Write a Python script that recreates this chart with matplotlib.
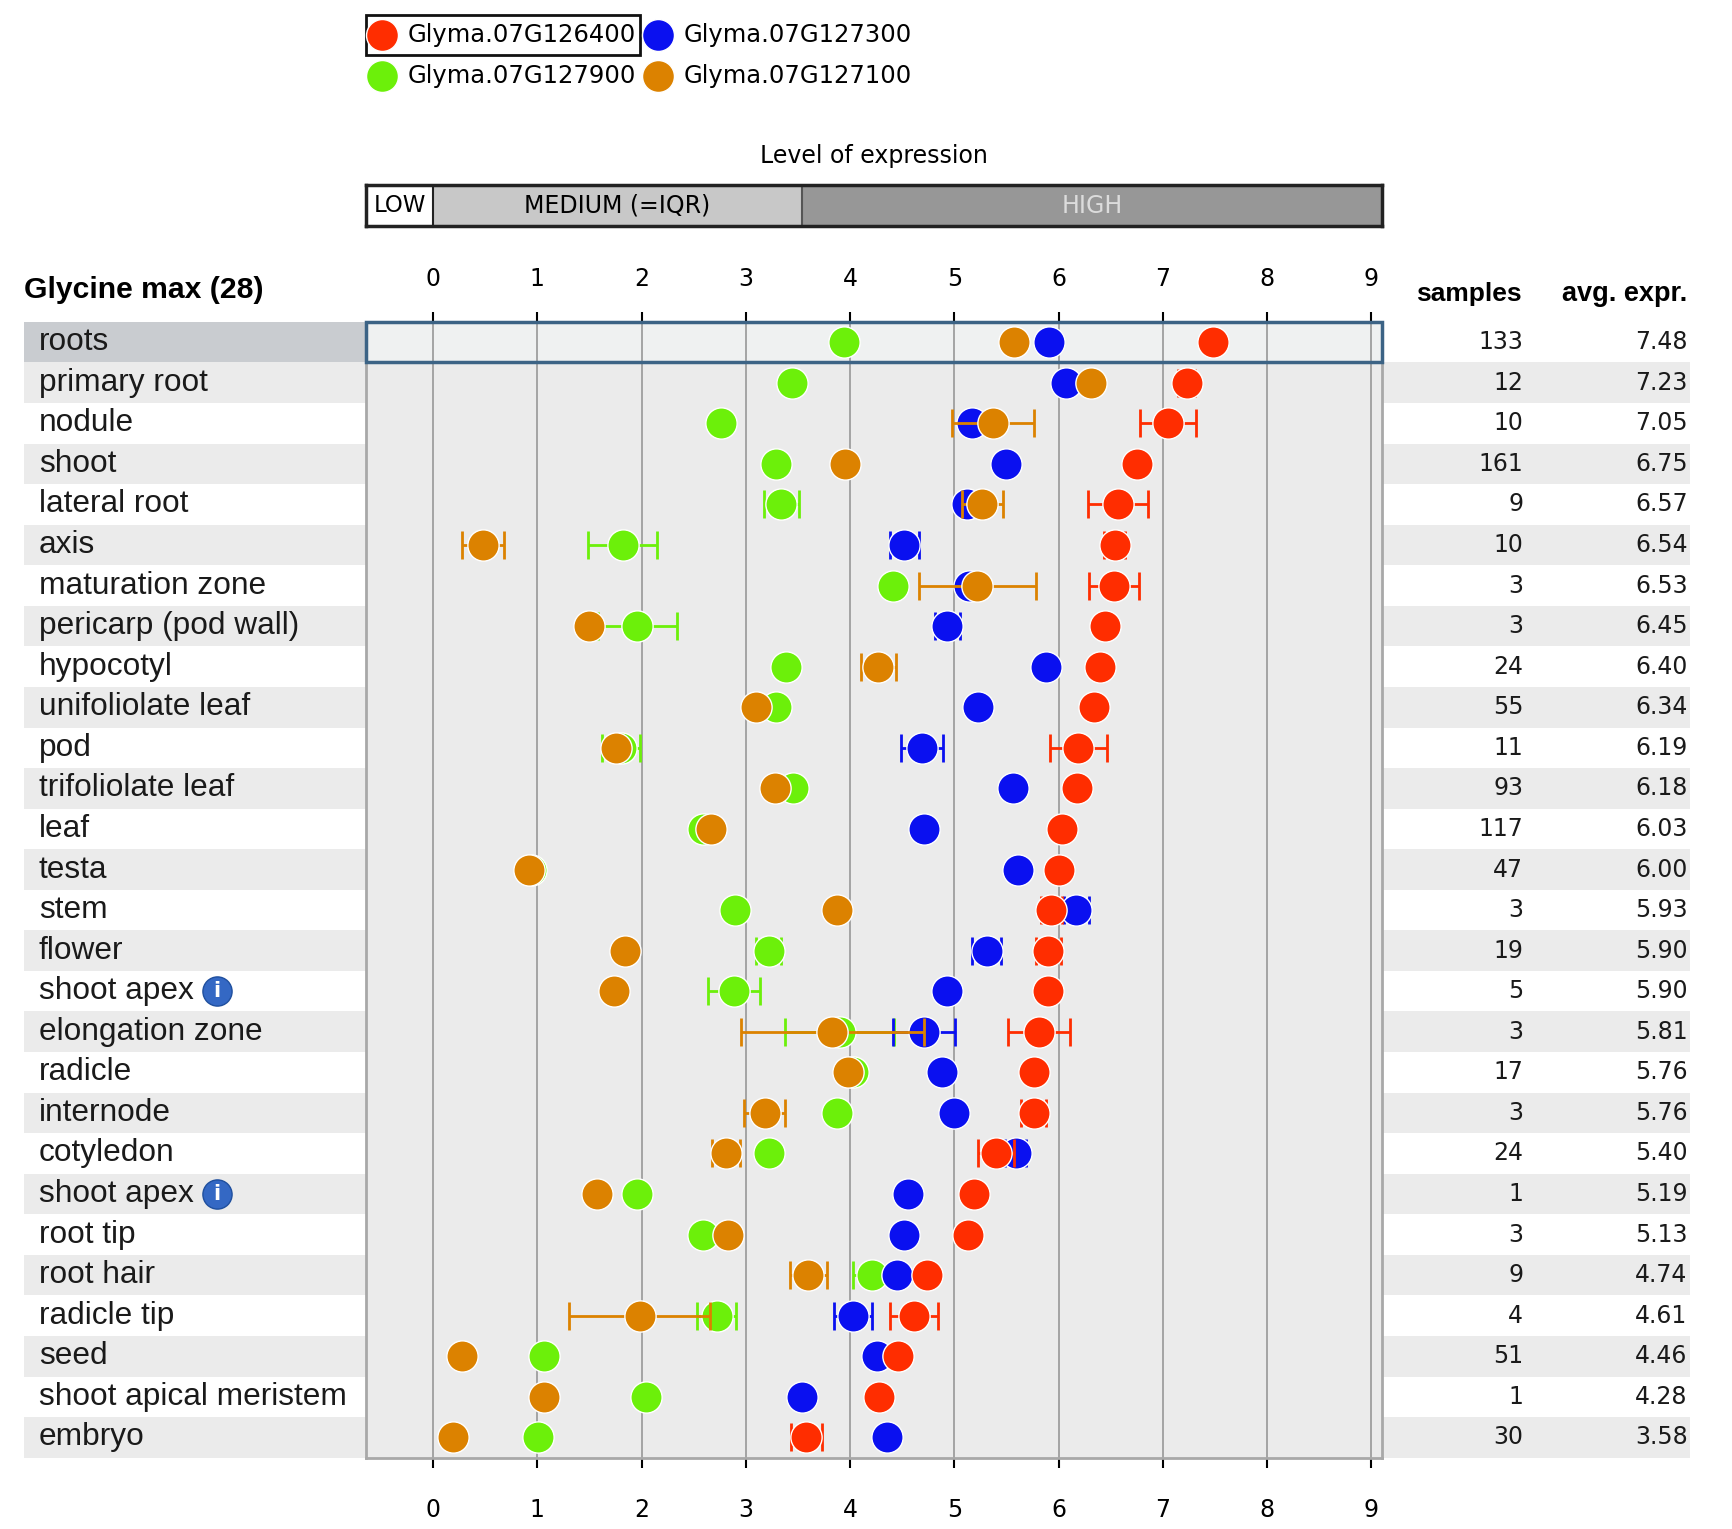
import matplotlib
matplotlib.use('Agg')
import matplotlib.pyplot as plt
import matplotlib.transforms as mtransforms
from matplotlib.patches import Rectangle
from matplotlib.lines import Line2D

# ---- data ----
tissues = ['roots', 'primary root', 'nodule', 'shoot', 'lateral root', 'axis',
           'maturation zone', 'pericarp (pod wall)', 'hypocotyl', 'unifoliolate leaf',
           'pod', 'trifoliolate leaf', 'leaf', 'testa', 'stem', 'flower', 'shoot apex',
           'elongation zone', 'radicle', 'internode', 'cotyledon', 'shoot apex',
           'root tip', 'root hair', 'radicle tip', 'seed', 'shoot apical meristem', 'embryo']
info_rows = [16, 21]
samples = [133, 12, 10, 161, 9, 10, 3, 3, 24, 55, 11, 93, 117, 47, 3, 19, 5, 3, 17, 3,
           24, 1, 3, 9, 4, 51, 1, 30]
avg_expr = [7.48, 7.23, 7.05, 6.75, 6.57, 6.54, 6.53, 6.45, 6.40, 6.34, 6.19, 6.18, 6.03,
            6.00, 5.93, 5.90, 5.90, 5.81, 5.76, 5.76, 5.40, 5.19, 5.13, 4.74, 4.61, 4.46,
            4.28, 3.58]

# Glyma.07G126400 (red) - same as avg. expr. column
expr_126400 = [7.48, 7.23, 7.05, 6.75, 6.57, 6.54, 6.53, 6.45, 6.40, 6.34, 6.19, 6.18, 6.03,
               6.00, 5.93, 5.90, 5.90, 5.81, 5.76, 5.76, 5.40, 5.19, 5.13, 4.74, 4.61, 4.46,
               4.28, 3.58]
err_126400 = [0, 0.08, 0.27, 0, 0.29, 0.10, 0.24, 0, 0, 0, 0.27, 0, 0, 0, 0.10, 0.12, 0,
              0.30, 0, 0.12, 0.17, 0, 0, 0, 0.23, 0, 0, 0.15]
# Glyma.07G127300 (blue)
expr_127300 = [5.91, 6.07, 5.17, 5.50, 5.12, 4.52, 5.14, 4.93, 5.88, 5.23, 4.69, 5.56, 4.71,
               5.61, 6.17, 5.31, 4.93, 4.71, 4.88, 5.00, 5.59, 4.56, 4.52, 4.45, 4.03, 4.26,
               3.54, 4.35]
err_127300 = [0, 0, 0, 0, 0, 0.14, 0, 0.12, 0, 0, 0.20, 0, 0, 0, 0.12, 0.14, 0, 0.30, 0, 0,
              0.10, 0, 0, 0, 0.18, 0, 0, 0]
# Glyma.07G127900 (green)
expr_127900 = [3.94, 3.44, 2.76, 3.29, 3.34, 1.82, 4.41, 1.96, 3.39, 3.29, 1.80, 3.45, 2.59,
               0.94, 2.90, 3.22, 2.89, 3.90, 4.03, 3.87, 3.22, 1.96, 2.59, 4.21, 2.72, 1.06,
               2.04, 1.01]
err_127900 = [0, 0, 0, 0, 0.17, 0.33, 0, 0.38, 0, 0, 0.18, 0, 0, 0, 0, 0.12, 0.25, 0.52, 0,
              0, 0, 0, 0, 0.18, 0.19, 0, 0, 0]
# Glyma.07G127100 (orange)
expr_127100 = [5.57, 6.31, 5.37, 3.95, 5.27, 0.48, 5.22, 1.50, 4.27, 3.10, 1.75, 3.28, 2.67,
               0.92, 3.87, 1.84, 1.74, 3.83, 3.98, 3.18, 2.81, 1.57, 2.83, 3.60, 1.98, 0.28,
               1.06, 0.19]
err_127100 = [0, 0, 0.39, 0, 0.20, 0.20, 0.56, 0, 0.17, 0, 0, 0, 0, 0, 0, 0, 0, 0.88, 0,
              0.20, 0.13, 0, 0, 0.18, 0.68, 0, 0, 0]

gene_names = ['Glyma.07G126400', 'Glyma.07G127300', 'Glyma.07G127900', 'Glyma.07G127100']
gene_colors = ['#ff2d00', '#0a10f0', '#6cf00a', '#dc8200']
iqr_low, iqr_high = 0.0, 3.54
x_ticks = list(range(10))

# ---- layout helpers (reference-pixel based) ----
W, H = 1560, 1385


def fx(p):
    return p / W


def fy(p):
    return 1 - p / H


fig = plt.figure(figsize=(17.32, 15.29), dpi=100)
fig.patch.set_facecolor('white')

n = len(tissues)
top_px, bot_px = 291.6, 1320.4
x_lo, x_hi = -0.64, 9.105

# background row bands (label + numbers columns)
bg = fig.add_axes([fx(22), fy(bot_px), fx(1522) - fx(22), (bot_px - top_px) / H])
bg.set_xlim(22, 1522)
bg.set_ylim(n - 0.5, -0.5)
bg.axis('off')
for i in range(1, n, 2):
    bg.axhspan(i - 0.5, i + 0.5, color='#ebebeb', lw=0)
bg.add_patch(Rectangle((22, -0.5), 330 - 22, 1, color='#c9ccd0', lw=0))

# main axes
ax = fig.add_axes([fx(330), fy(bot_px), (1245 - 330) / W, (bot_px - top_px) / H])
ax.set_facecolor('#ebebeb')
ax.set_xlim(x_lo, x_hi)
ax.set_ylim(n - 0.5, -0.5)
for xv in x_ticks:
    ax.axvline(xv, color='#9e9e9e', lw=1.3, zorder=1)
ax.set_xticks(x_ticks)
ax.set_yticks([])
ax.tick_params(axis='x', top=True, labeltop=True, bottom=True, labelbottom=True,
               length=7, width=1.5, labelsize=17, pad=22)
for s in ax.spines.values():
    s.set_color('#a8a8a8')
    s.set_linewidth(2)

# top tick labels sit a bit closer to the axis than the bottom ones
top_offset = mtransforms.ScaledTranslation(0, -9 / 100, fig.dpi_scale_trans)
for t in ax.xaxis.get_major_ticks():
    t.label2.set_transform(t.label2.get_transform() + top_offset)

# highlighted first row
ax.add_patch(Rectangle((x_lo, -0.5), x_hi - x_lo, 1, facecolor='#eff1f1',
                       edgecolor='none', zorder=0.5, clip_on=False))
ax.add_patch(Rectangle((x_lo, -0.5), x_hi - x_lo, 1, fill=False,
                       edgecolor='#3c6385', lw=2.5, zorder=2.7, clip_on=False))

series = [(expr_127900, err_127900, gene_colors[2]),
          (expr_127300, err_127300, gene_colors[1]),
          (expr_126400, err_126400, gene_colors[0]),
          (expr_127100, err_127100, gene_colors[3])]
rows = list(range(n))
z = 3
for vals, errs, col in series:
    er_rows = [r for r in rows if errs[r] > 0]
    if er_rows:
        ax.errorbar([vals[r] for r in er_rows], er_rows, xerr=[errs[r] for r in er_rows],
                    fmt='none', ecolor=col, elinewidth=2, capsize=10, capthick=2, zorder=z)
    ax.plot(vals, rows, 'o', ms=22.5, color=col, mec='white', mew=1, zorder=z + 0.5,
            ls='none')
    z += 1

# row labels and numbers
tr = mtransforms.blended_transform_factory(fig.transFigure, ax.transData)
for i, name in enumerate(tissues):
    ax.text(fx(35), i, name, transform=tr, ha='left', va='center', fontsize=22.8,
            family='Liberation Sans', color='#1a1a1a')
    ax.text(fx(1372), i, str(samples[i]), transform=tr, ha='right', va='center',
            fontsize=17, color='#1a1a1a')
    ax.text(fx(1520), i, '%.2f' % avg_expr[i], transform=tr, ha='right', va='center',
            fontsize=17, color='#1a1a1a')
for i in info_rows:
    ax.plot([fx(195)], [i], 'o', ms=21, color='#3468c4', mec='#1f4f9e', mew=1,
            transform=tr, clip_on=False)
    ax.text(fx(195), i, 'i', transform=tr, ha='center', va='center', fontsize=15,
            fontweight='bold', color='white')

# column headers
fig.text(fx(22), fy(263), 'Glycine max (28)', ha='left', va='center', fontsize=21.7,
         fontweight='bold', family='Liberation Sans')
fig.text(fx(1371), fy(266), 'samples', ha='right', va='center', fontsize=19,
         fontweight='bold', family='Liberation Sans')
fig.text(fx(1520), fy(266), 'avg. expr.', ha='right', va='center', fontsize=19.5,
         fontweight='bold', family='Liberation Sans')

# level of expression bar
fig.text(fx(787), fy(141), 'Level of expression', ha='center', va='center', fontsize=17)
bar = fig.add_axes([fx(330), fy(205), (1245 - 330) / W, (205 - 168) / H])
bar.set_xlim(x_lo, x_hi)
bar.set_ylim(0, 1)
bar.set_xticks([])
bar.set_yticks([])
bar.axvspan(x_lo, iqr_low, color='white', lw=0)
bar.axvspan(iqr_low, iqr_high, color='#c8c8c8', lw=0)
bar.axvspan(iqr_high, x_hi, color='#979797', lw=0)
bar.axvline(iqr_low, color='#222222', lw=1.5)
bar.axvline(iqr_high, color='#555555', lw=1.5)
for s in bar.spines.values():
    s.set_color('#222222')
    s.set_linewidth(2.5)
bar.text((x_lo + iqr_low) / 2, 0.5, 'LOW', ha='center', va='center', fontsize=16.5)
bar.text((iqr_low + iqr_high) / 2, 0.5, 'MEDIUM (=IQR)', ha='center', va='center',
         fontsize=17)
bar.text((iqr_high + x_hi) / 2, 0.5, 'HIGH', ha='center', va='center', fontsize=17,
         color='#dcdcdc')

# legend
leg_pos = [(344, 32), (593, 32), (344, 69), (593, 69)]
for (px, py), gi in zip(leg_pos, [0, 1, 2, 3]):
    fig.add_artist(Line2D([fx(px)], [fy(py)], marker='o', ms=23, color=gene_colors[gi],
                          mec='white', mew=1, ls='none', transform=fig.transFigure))
    fig.text(fx(px + 23), fy(py), gene_names[gi], ha='left', va='center', fontsize=17.5)
fig.add_artist(Rectangle((fx(330), fy(50)), (576 - 330) / W, (50 - 14) / H, fill=False,
                         edgecolor='#111111', lw=2, transform=fig.transFigure))

fig.savefig('out.png', dpi=100)
